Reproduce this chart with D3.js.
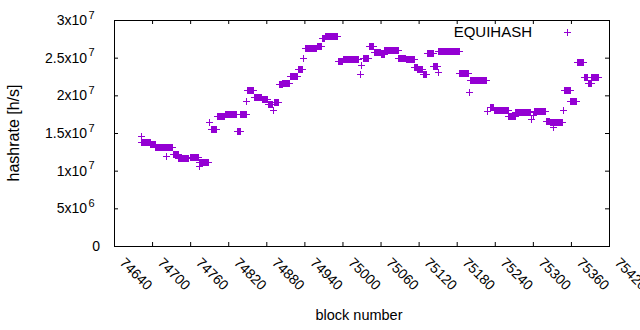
<!DOCTYPE html>
<html>
<head>
<meta charset="utf-8">
<script src="https://cdnjs.cloudflare.com/ajax/libs/d3/7.8.5/d3.min.js"></script>
<style>
  body { margin: 0; background: #fff; }
  text { font-family: "Liberation Sans", Arial, sans-serif; fill: #000; }
</style>
</head>
<body>
<div id="chart"></div>
<script>
// runs of blocks with the same hashrate estimate
let runStart = [74684, 74698, 74706, 74723, 74733, 74742, 74760, 74775, 74793, 74803,
  74815, 74834, 74840, 74850, 74861, 74874, 74883, 74893, 74900, 74906,
  74918, 74930, 74941, 74960, 74968, 74973, 74993, 75001, 75033, 75042,
  75050, 75061, 75067, 75089, 75101, 75114, 75119, 75127, 75134, 75144,
  75152, 75185, 75201, 75233, 75239, 75262, 75273, 75303, 75321, 75328,
  75350, 75360, 75370, 75381, 75387, 75393]
let runEnd = [74697, 74705, 74721, 74732, 74741, 74757, 74773, 74789, 74802, 74814,
  74833, 74839, 74848, 74860, 74873, 74882, 74889, 74899, 74905, 74917,
  74929, 74937, 74959, 74967, 74972, 74992, 75000, 75026, 75041, 75049,
  75060, 75066, 75088, 75100, 75113, 75118, 75126, 75133, 75143, 75150,
  75184, 75199, 75227, 75238, 75261, 75272, 75296, 75320, 75327, 75346,
  75359, 75369, 75380, 75386, 75392, 75404]
let runHashrate = [13.70e6, 13.43e6, 13.06e6, 13.06e6, 12.17e6, 11.60e6, 11.74e6, 11.05e6, 15.49e6, 17.15e6,
  17.48e6, 15.19e6, 17.48e6, 20.62e6, 19.70e6, 19.43e6, 18.81e6, 19.03e6, 21.42e6, 21.55e6,
  22.56e6, 23.45e6, 26.19e6, 26.47e6, 27.52e6, 27.87e6, 24.55e6, 24.73e6, 24.87e6, 26.46e6,
  25.66e6, 25.44e6, 25.93e6, 24.87e6, 24.73e6, 23.67e6, 23.45e6, 22.78e6, 25.53e6, 23.89e6,
  25.80e6, 22.88e6, 21.92e6, 18.37e6, 18.05e6, 17.18e6, 17.68e6, 17.84e6, 16.55e6, 16.42e6,
  20.62e6, 19.20e6, 24.34e6, 22.43e6, 21.55e6, 22.35e6]

// single blocks off the runs
let spikeBlock = [74683, 74722, 74774, 74790, 74849, 74891, 74938, 75028, 75030, 75151,
  75200, 75228, 75298, 75301, 75333, 75348]
let spikeHashrate = [14.47e6, 11.91e6, 10.58e6, 16.33e6, 19.24e6, 18.01e6, 24.87e6, 22.78e6, 23.98e6, 23.09e6,
  20.36e6, 17.79e6, 16.78e6, 17.35e6, 15.72e6, 18.01e6]

let xTicks = [74640, 74700, 74760, 74820, 74880, 74940, 75000, 75060, 75120, 75180, 75240, 75300, 75360, 75420]
let yTicks = [0, 5e6, 1e7, 1.5e7, 2e7, 2.5e7, 3e7]
let yTickBase = ['0', '5x10', '1x10', '1.5x10', '2x10', '2.5x10', '3x10']
let yTickExp = ['', '6', '7', '7', '7', '7', '7']

let margin = { top: 20, right: 31, bottom: 84, left: 114 }
let width = 640 - margin.left - margin.right
let height = 330 - margin.top - margin.bottom
let color = '#9400d3'

let svg = d3.select('#chart')
  .append('svg')
    .attr('width', 640)
    .attr('height', 330)
let plot = svg.append('g')
    .attr('transform', `translate(${margin.left}, ${margin.top})`)

let xScale = d3.scaleLinear().domain([74640, 75420]).range([0, width])
let yScale = d3.scaleLinear().domain([0, 3e7]).range([height, 0])

// one point per block
let points = []
runStart.forEach((s, i) => {
  for (let b = s; b <= runEnd[i]; b++) points.push({ block: b, hashrate: runHashrate[i] })
})
spikeBlock.forEach((b, i) => points.push({ block: b, hashrate: spikeHashrate[i] }))

// ticks, all pointing inward
function tickAxis(axis, transform) {
  plot.append('g')
    .attr('transform', transform)
    .style('color', '#000')
    .call(axis.tickSize(-4).tickFormat(''))
    .call(g => g.select('.domain').remove())
}
tickAxis(d3.axisBottom(xScale).tickValues(xTicks), `translate(0, ${height})`)
tickAxis(d3.axisTop(xScale).tickValues(xTicks), 'translate(0, 0)')
tickAxis(d3.axisLeft(yScale).tickValues(yTicks), 'translate(0, 0)')
tickAxis(d3.axisRight(yScale).tickValues(yTicks), `translate(${width}, 0)`)

plot.append('rect')
  .attr('x', 0.5)
  .attr('y', 0.5)
  .attr('width', width)
  .attr('height', height)
  .attr('fill', 'none')
  .attr('stroke', '#000')
  .attr('stroke-width', 1)

// x tick labels, rotated
plot.selectAll('.xlabel')
  .data(xTicks)
  .enter().append('text')
    .attr('class', 'xlabel')
    .attr('transform', d => `translate(${xScale(d) + 5}, ${height + 17.5}) rotate(45)`)
    .style('font-size', '14px')
    .text(d => d)

// y tick labels with exponents
yTicks.forEach((d, i) => {
  let y = yScale(d)
  if (yTickExp[i] === '') {
    plot.append('text')
      .attr('x', -14)
      .attr('y', y + 5)
      .attr('text-anchor', 'end')
      .style('font-size', '14px')
      .text(yTickBase[i])
  } else {
    plot.append('text')
      .attr('x', -27)
      .attr('y', y + 5)
      .attr('text-anchor', 'end')
      .style('font-size', '14px')
      .text(yTickBase[i])
    plot.append('text')
      .attr('x', -25.5)
      .attr('y', y - 1.3)
      .style('font-size', '11px')
      .text(yTickExp[i])
  }
})

// axis titles
svg.append('text')
  .attr('transform', `translate(19, ${margin.top + height / 2}) rotate(-90)`)
  .attr('text-anchor', 'middle')
  .style('font-size', '16px')
  .text('hashrate [h/s]')

svg.append('text')
  .attr('x', 359)
  .attr('y', 320)
  .attr('text-anchor', 'middle')
  .style('font-size', '14.5px')
  .text('block number')

// points
let plus = 'M-3.5,0H3.5M0,-3.5V3.5'
plot.selectAll('.pt')
  .data(points)
  .enter().append('path')
    .attr('class', 'pt')
    .attr('d', plus)
    .attr('transform', d => `translate(${xScale(d.block)}, ${yScale(d.hashrate)})`)
    .attr('fill', 'none')
    .attr('stroke', color)
    .attr('stroke-width', 1)
    .attr('shape-rendering', 'crispEdges')

// legend
plot.append('text')
  .attr('x', 532 - margin.left)
  .attr('y', 37 - margin.top)
  .attr('text-anchor', 'end')
  .style('font-size', '15px')
  .text('EQUIHASH')
plot.append('path')
  .attr('d', plus)
  .attr('transform', `translate(${567.5 - margin.left}, ${32.5 - margin.top})`)
  .attr('fill', 'none')
  .attr('stroke', color)
  .attr('stroke-width', 1)
  .attr('shape-rendering', 'crispEdges')
</script>
</body>
</html>
